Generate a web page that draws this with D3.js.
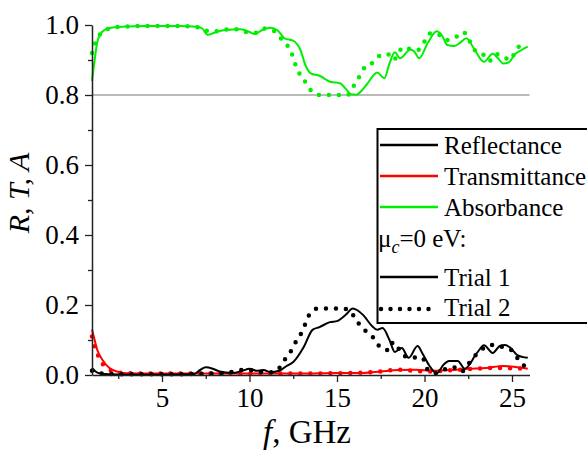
<!DOCTYPE html>
<html>
<head>
<meta charset="utf-8">
<script src="https://cdn.jsdelivr.net/npm/d3@7"></script>
</head>
<body style="margin:0; background:#fff">
<div id="chart"></div>
<script>
// frequency (GHz) / value pairs
const absT1F = [1.0, 1.15, 1.3, 1.5, 1.8, 2.2, 3, 4, 5, 6, 7, 7.3, 7.6, 8.0, 8.5, 9, 9.5, 10.0, 10.3, 10.7, 11.2, 11.6, 12.0, 12.5, 12.9, 13.2, 13.5, 14.0, 14.6, 15.2, 15.5, 15.8, 16.1, 16.4, 16.7, 17.3, 17.7, 18.0, 18.3, 18.6, 19.2, 19.4, 19.7, 20.2, 20.7, 21.0, 21.3, 21.7, 22.0, 22.4, 22.8, 23.4, 23.9, 24.2, 24.5, 24.8, 25.2, 25.6, 25.9];
const absT1 = [0.84, 0.9, 0.95, 0.975, 0.988, 0.993, 0.996, 0.997, 0.997, 0.997, 0.995, 0.99, 0.972, 0.978, 0.985, 0.987, 0.988, 0.98, 0.974, 0.985, 0.992, 0.985, 0.962, 0.955, 0.93, 0.885, 0.862, 0.855, 0.838, 0.833, 0.818, 0.802, 0.801, 0.812, 0.83, 0.864, 0.848, 0.89, 0.922, 0.905, 0.93, 0.925, 0.905, 0.95, 0.982, 0.97, 0.943, 0.94, 0.948, 0.962, 0.935, 0.895, 0.918, 0.905, 0.89, 0.893, 0.918, 0.93, 0.938];

const absT2F = [1.0, 1.2, 1.5, 2.0, 3, 4, 5, 6, 6.8, 7.3, 7.8, 8.5, 9.3, 10.0, 10.4, 10.8, 11.3, 11.7, 12.1, 12.4, 12.6, 12.8, 13.1, 13.4, 14.0, 14.5, 15.1, 15.6, 16.0, 16.3, 16.6, 17.1, 17.5, 17.9, 18.2, 18.8, 19.3, 19.6, 20.0, 20.3, 20.7, 21.2, 21.7, 22.2, 22.6, 22.8, 23.3, 23.7, 24.1, 24.5, 24.9, 25.2, 25.6, 25.8];
const absT2 = [0.92, 0.95, 0.976, 0.99, 0.996, 0.997, 0.997, 0.997, 0.996, 0.989, 0.98, 0.986, 0.988, 0.978, 0.978, 0.99, 0.986, 0.966, 0.946, 0.92, 0.89, 0.866, 0.845, 0.82, 0.80, 0.80, 0.80, 0.80, 0.83, 0.854, 0.88, 0.894, 0.914, 0.917, 0.9, 0.937, 0.929, 0.928, 0.953, 0.976, 0.976, 0.957, 0.962, 0.98, 0.952, 0.931, 0.919, 0.897, 0.917, 0.91, 0.9, 0.926, 0.948, 0.952];

const refT1F = [1.0, 1.2, 1.5, 2, 3, 5, 6.8, 7.2, 7.5, 7.9, 8.3, 9, 9.6, 10.0, 10.4, 10.8, 11.2, 11.7, 12.1, 12.5, 13.1, 13.6, 14.0, 14.6, 15.0, 15.5, 15.9, 16.5, 17.0, 17.3, 17.6, 18.0, 18.3, 18.7, 19.1, 19.6, 19.9, 20.3, 20.7, 21.1, 21.4, 21.9, 22.3, 23.0, 23.4, 23.9, 24.3, 24.6, 24.9, 25.3, 25.9];
const refT1 = [0.02, 0.01, 0.004, 0.002, 0.001, 0.001, 0.002, 0.015, 0.022, 0.018, 0.01, 0.006, 0.012, 0.018, 0.012, 0.014, 0.008, 0.012, 0.025, 0.037, 0.08, 0.129, 0.137, 0.151, 0.154, 0.172, 0.19, 0.171, 0.14, 0.129, 0.134, 0.1, 0.066, 0.077, 0.049, 0.083, 0.06, 0.025, 0.005, 0.03, 0.04, 0.04, 0.018, 0.063, 0.085, 0.063, 0.083, 0.086, 0.078, 0.057, 0.049];

const refT2F = [1.0, 1.3, 2, 4, 6, 7.5, 8.5, 9.8, 10.5, 11.3, 11.7, 12.0, 12.4, 12.7, 13.0, 13.4, 13.9, 14.6, 15.2, 15.7, 16.0, 16.3, 16.7, 17.2, 17.5, 18.0, 18.2, 18.6, 19.0, 19.5, 19.9, 20.1, 20.6, 21.1, 21.6, 22.1, 22.6, 23.1, 23.5, 23.9, 24.3, 24.6, 25.0, 25.3, 25.7];
const refT2 = [0.012, 0.006, 0.003, 0.002, 0.002, 0.004, 0.005, 0.015, 0.01, 0.008, 0.02, 0.043, 0.071, 0.1, 0.123, 0.171, 0.19, 0.19, 0.19, 0.186, 0.165, 0.143, 0.123, 0.1, 0.077, 0.071, 0.094, 0.07, 0.051, 0.05, 0.049, 0.02, 0.005, 0.015, 0.023, 0.009, 0.037, 0.066, 0.08, 0.086, 0.083, 0.077, 0.07, 0.049, 0.026];

const trT1F = [1.0, 1.15, 1.3, 1.6, 2.0, 2.5, 3, 5, 8, 11, 13, 15, 16.5, 17.5, 18.5, 19.5, 20.5, 21.5, 22.5, 23.5, 24.5, 25.3, 25.9];
const trT1 = [0.13, 0.1, 0.072, 0.043, 0.02, 0.009, 0.005, 0.004, 0.004, 0.004, 0.004, 0.006, 0.006, 0.01, 0.014, 0.015, 0.012, 0.014, 0.018, 0.02, 0.026, 0.022, 0.018];

const trT2F = [1.0, 1.2, 1.5, 2, 2.5, 4, 8, 12, 15, 17, 18.5, 20, 22, 24, 25.7];
const trT2 = [0.11, 0.075, 0.04, 0.015, 0.007, 0.004, 0.004, 0.004, 0.005, 0.008, 0.015, 0.01, 0.015, 0.02, 0.018];

const xTicks = [5, 10, 15, 20, 25];
const xMinor = [2.5, 7.5, 12.5, 17.5, 22.5];
const yTicks = [0, 0.2, 0.4, 0.6, 0.8, 1.0];
const yMinor = [0.1, 0.3, 0.5, 0.7, 0.9];

const legendItems = ["Reflectance", "Transmittance", "Absorbance"];
const legendColors = ["#000000", "#ff0000", "#00ee00"];

const serif = "Liberation Serif";
const width = 587, height = 450;
const svg = d3.select("#chart").append("svg")
    .attr("width", width)
    .attr("height", height)
    .style("font-family", serif);

const x = d3.scaleLinear().domain([1, 26]).range([92, 529.5]);
const y = d3.scaleLinear().domain([0, 1]).range([375, 25]);

// reference line at 0.8
svg.append("line")
    .attr("x1", x(1)).attr("x2", x(26))
    .attr("y1", y(0.8)).attr("y2", y(0.8))
    .attr("stroke", "#777").attr("stroke-width", 1.2);

const line = d3.line()
    .x(d => x(d[0]))
    .y(d => y(d[1]))
    .curve(d3.curveMonotoneX);

function drawSeries(fs, vs, color, dotted) {
    const pts = fs.map((f, i) => [f, vs[i]]);
    const p = svg.append("path")
        .datum(pts)
        .attr("d", line)
        .attr("fill", "none")
        .attr("stroke", color)
        .attr("stroke-linejoin", "round");
    if (dotted) {
        p.attr("stroke-width", 4.5)
         .attr("stroke-dasharray", "0,10")
         .attr("stroke-linecap", "round");
    } else {
        p.attr("stroke-width", 2);
    }
}

drawSeries(absT2F, absT2, legendColors[2], true);
drawSeries(absT1F, absT1, legendColors[2], false);
drawSeries(trT2F, trT2, legendColors[1], true);
drawSeries(trT1F, trT1, legendColors[1], false);
drawSeries(refT2F, refT2, legendColors[0], true);
drawSeries(refT1F, refT1, legendColors[0], false);

// axes
svg.append("g")
    .attr("transform", `translate(0,${y(0)})`)
    .call(d3.axisBottom(x).tickValues(xTicks).tickSize(7).tickSizeOuter(0).tickPadding(6));
svg.append("g")
    .attr("transform", `translate(0,${y(0)})`)
    .call(d3.axisBottom(x).tickValues(xMinor).tickSize(4).tickSizeOuter(0).tickFormat(""))
    .select(".domain").remove();

svg.append("g")
    .attr("transform", `translate(${x(1)},0)`)
    .call(d3.axisLeft(y).tickValues(yTicks).tickSize(7).tickSizeOuter(0).tickPadding(6).tickFormat(d3.format(".1f")));
svg.append("g")
    .attr("transform", `translate(${x(1)},0)`)
    .call(d3.axisLeft(y).tickValues(yMinor).tickSize(4).tickSizeOuter(0).tickFormat(""))
    .select(".domain").remove();

svg.selectAll("g").attr("font-family", serif);
svg.selectAll(".domain").attr("stroke", "#222").attr("stroke-width", 1.5);
svg.selectAll(".tick line").attr("stroke", "#222").attr("stroke-width", 1.3);
svg.selectAll(".tick text")
    .style("font-family", serif)
    .attr("font-size", 27)
    .attr("fill", "#000");

// axis titles
svg.append("text")
    .attr("x", 307).attr("y", 443)
    .attr("text-anchor", "middle")
    .style("font-family", serif)
    .attr("font-size", 33)
    .html('<tspan font-style="italic">f</tspan>, GHz');

svg.append("text")
    .attr("transform", "translate(29,193) rotate(-90)")
    .attr("text-anchor", "middle")
    .style("font-family", serif)
    .attr("font-size", 30)
    .attr("font-style", "italic")
    .text("R, T, A");

// legend
const lg = svg.append("g").style("font-family", serif);
lg.append("rect")
    .attr("x", 377.5).attr("y", 129)
    .attr("width", 240).attr("height", 194)
    .attr("fill", "#fff")
    .attr("stroke", "#000").attr("stroke-width", 2);

const rowY = [145, 176, 207];
legendItems.forEach((name, i) => {
    lg.append("line")
        .attr("x1", 380).attr("x2", 438)
        .attr("y1", rowY[i]).attr("y2", rowY[i])
        .attr("stroke", legendColors[i]).attr("stroke-width", 2.5);
    lg.append("text")
        .attr("x", 444).attr("y", rowY[i] + 9)
        .attr("font-size", 25)
        .style("font-family", serif)
        .text(name);
});

lg.append("text")
    .attr("x", 378).attr("y", 247)
    .attr("font-size", 25)
    .style("font-family", serif)
    .html('μ<tspan font-style="italic" font-size="18" dy="6">c</tspan><tspan dy="-6">=0 eV:</tspan>');

lg.append("line")
    .attr("x1", 380).attr("x2", 438)
    .attr("y1", 277).attr("y2", 277)
    .attr("stroke", "#000").attr("stroke-width", 2.5);
lg.append("text")
    .attr("x", 444).attr("y", 286)
    .attr("font-size", 25)
    .style("font-family", serif)
    .text("Trial 1");

lg.append("line")
    .attr("x1", 381).attr("x2", 438)
    .attr("y1", 309).attr("y2", 309)
    .attr("stroke", "#000").attr("stroke-width", 4.5)
    .attr("stroke-dasharray", "0,9.5")
    .attr("stroke-linecap", "round");
lg.append("text")
    .attr("x", 444).attr("y", 316)
    .attr("font-size", 25)
    .style("font-family", serif)
    .text("Trial 2");
</script>
</body>
</html>
